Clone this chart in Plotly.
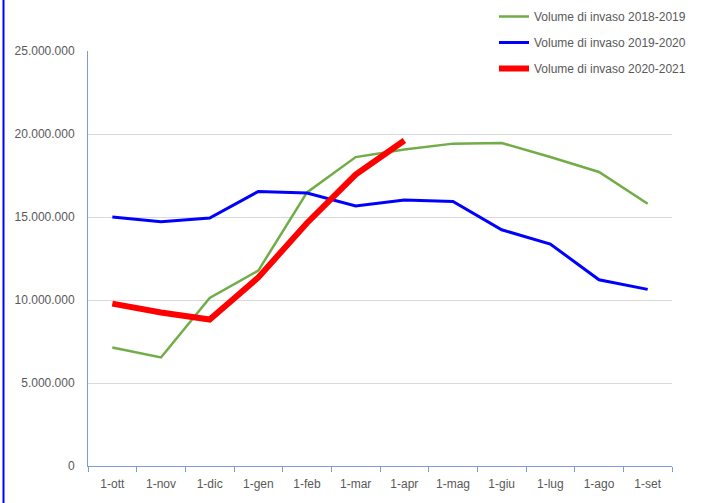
import plotly.graph_objects as go

months = ["1-ott", "1-nov", "1-dic", "1-gen", "1-feb", "1-mar",
          "1-apr", "1-mag", "1-giu", "1-lug", "1-ago", "1-set"]

vol_2018_2019 = [7140000, 6540000, 10120000, 11770000, 16480000, 18610000,
                 19060000, 19420000, 19460000, 18610000, 17710000, 15800000]
vol_2019_2020 = [15000000, 14720000, 14940000, 16540000, 16450000, 15660000,
                 16020000, 15940000, 14230000, 13370000, 11220000, 10640000]
vol_2020_2021 = [9780000, 9250000, 8820000, 11360000, 14640000, 17550000,
                 19610000]

series = [
    ("Volume di invaso 2018-2019", vol_2018_2019, "#70AD47", 2.5),
    ("Volume di invaso 2019-2020", vol_2019_2020, "#0000FF", 3),
    ("Volume di invaso 2020-2021", vol_2020_2021, "#FF0000", 6),
]

W, H = 708, 503
ML, MR, MT, MB = 88, 36, 51, 37

fig = go.Figure()
for name, values, color, width in series:
    fig.add_trace(
        go.Scatter(
            x=months[: len(values)],
            y=values,
            mode="lines",
            name=name,
            legendgroup=name,
            line={"color": color, "width": width},
        )
    )

axis_color = "#7C9BD9"
label_font = {"family": "Liberation Sans, Arial, sans-serif", "size": 12, "color": "#595959"}

fig.update_layout(
    width=W,
    height=H,
    margin={"l": ML, "r": MR, "t": MT, "b": MB, "autoexpand": False},
    paper_bgcolor="white",
    plot_bgcolor="white",
    separators=",.",
    font=label_font,
    showlegend=True,
    legend={
        "x": (494 - ML) / (W - ML - MR),
        "xanchor": "left",
        "y": 1 + (MT - 2) / (H - MT - MB),
        "yanchor": "top",
        "bgcolor": "rgba(0,0,0,0)",
        "font": label_font,
        "tracegroupgap": 7,
        "itemwidth": 30,
    },
    shapes=[
        {
            "type": "line",
            "xref": "paper",
            "yref": "paper",
            "x0": (3.5 - ML) / (W - ML - MR),
            "x1": (3.5 - ML) / (W - ML - MR),
            "y0": -1,
            "y1": 2,
            "line": {"color": "#0000FF", "width": 2},
        }
    ],
)

fig.update_xaxes(
    type="category",
    categoryorder="array",
    categoryarray=months,
    range=[-0.5, len(months) - 0.5],
    tickson="boundaries",
    ticks="outside",
    ticklen=5,
    tickcolor=axis_color,
    showline=True,
    linecolor=axis_color,
    linewidth=1,
    showgrid=False,
    ticklabelstandoff=7,
    tickfont=label_font,
)
fig.update_yaxes(
    range=[0, 25000000],
    dtick=5000000,
    tickformat=",d",
    showgrid=True,
    gridcolor="#D9D9D9",
    gridwidth=1,
    zeroline=False,
    showline=True,
    linecolor=axis_color,
    linewidth=1,
    ticks="",
    ticklabelstandoff=10,
    tickfont=label_font,
)

# the page body has a default 8px margin; drop it so the figure fills the window
fig.write_html(
    "out.html",
    config={"displayModeBar": False},
    post_script="document.body.style.margin = '0';",
)
